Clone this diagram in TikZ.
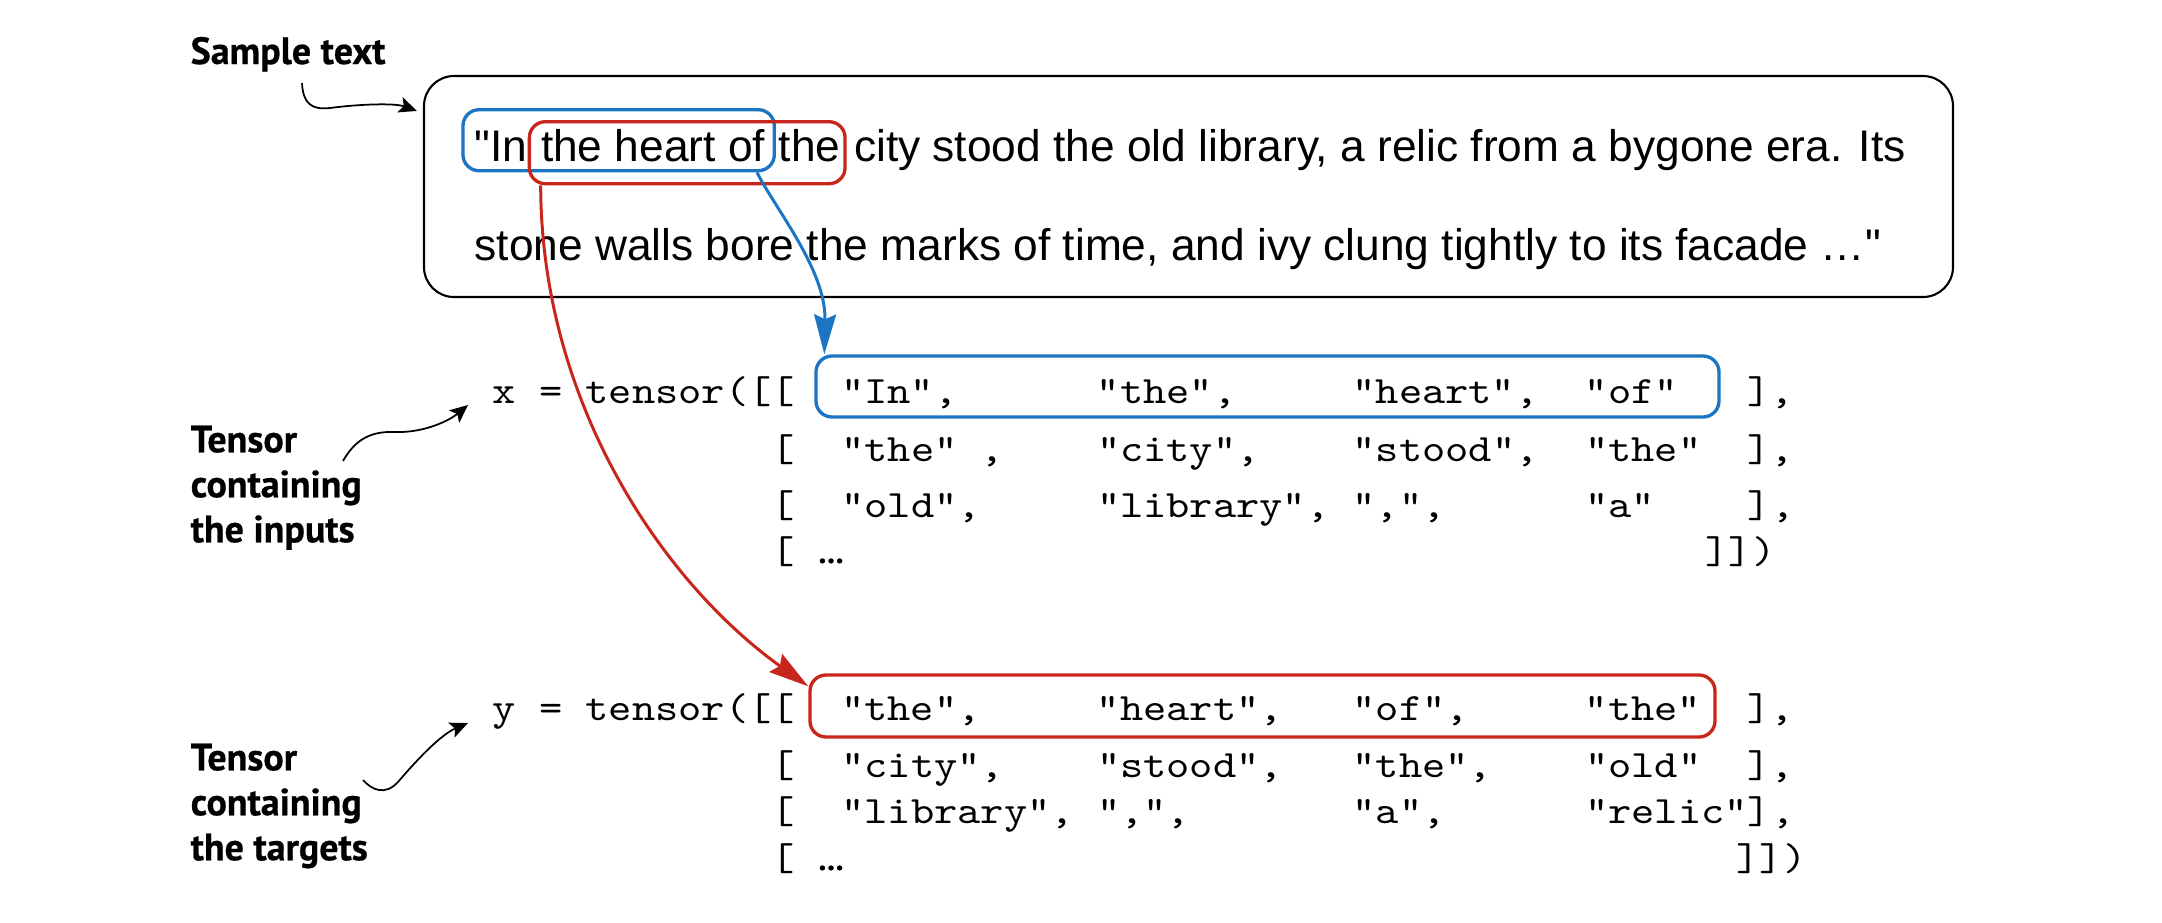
\documentclass[tikz,border=0pt]{standalone}
\usepackage{fontspec}
\newfontfamily\txtfont{Liberation Sans}
\newfontfamily\lblfont[BoldFeatures={FakeBold=0.6}]{PT Sans}
\newfontfamily\codefont[FakeStretch=1.145]{lmmono10-regular.otf}
\usetikzlibrary{arrows.meta,calc,fit}
\definecolor{hlblue}{RGB}{27,117,194}
\definecolor{hlred}{RGB}{200,38,28}
\tikzset{
  txt/.style={font=\txtfont\fontsize{12.6}{15}\selectfont, inner sep=0, anchor=base west},
  code/.style={font=\codefont\fontsize{11}{13}\selectfont, inner sep=0, anchor=base west},
  lbl/.style={font=\lblfont\bfseries\fontsize{10.8}{12.8}\selectfont, inner sep=0, align=left},
  hlbox/.style={draw, line width=0.95pt, rounded corners=1.6mm, inner sep=0},
  bigbox/.style={draw, line width=0.6pt, rounded corners=3mm, minimum width=152.9mm, minimum height=22.1mm, inner sep=0},
  lblarrow/.style={-{Stealth[length=1.8mm,width=1.6mm,inset=0.4mm]}, line width=0.5pt},
  hlarrow/.style={-{Stealth[length=4mm,width=2.2mm,inset=0.5mm]}, line width=0.85pt},
}
\newcommand{\dotsym}{{\lblfont\bfseries\fontsize{9}{11}\selectfont …}}
\begin{document}
\begin{tikzpicture}[x=0.1mm,y=-0.1mm]
\useasboundingbox (0,0) rectangle (2162,922);
% labels
\node[lbl, anchor=base west] (lsample) at (190,64) {Sample text};
\node[lbl, anchor=north west] (linputs) at (190,425) {Tensor\\containing\\the inputs};
\node[lbl, anchor=north west] (ltargets) at (190,743) {Tensor\\containing\\the targets};
% main box and sample text
\node[bigbox] (box) at (1188.5,186.5) {};
\node[txt] (w1) at (474,161.7) {"In};
\node[txt] (w2) at ([xshift=3.5pt]w1.base east) {the heart of};
\node[txt] (w3) at ([xshift=3.5pt]w2.base east) {the};
\node[txt] (w4) at ([xshift=3.5pt]w3.base east) {city stood the old library, a relic from a bygone era. Its};
\node[txt] (l2) at (474,260) {stone walls bore the marks of time, and ivy clung tightly to its facade …"};
% highlight boxes in the sample text
\coordinate (bA1) at ($(w1.base west)+(-11,-52)$);
\coordinate (bA2) at ($(w2.base east)+(8.5,9)$);
\node[hlbox, draw=hlblue, fit=(bA1)(bA2)] (bA) {};
\coordinate (rA1) at ($(w2.base west)+(-11,-40)$);
\coordinate (rA2) at ($(w3.base east)+(4,22)$);
\node[hlbox, draw=hlred, fit=(rA1)(rA2)] (rA) {};
% input tensor
\node[code] (xr1) at (492,403) {x~=~tensor([[~~"In",~~~~~~"the",~~~~~"heart",~~"of"~~~],};
\node[code] (xr2) at (771,461) {[~~"the"~,~~~~"city",~~~~"stood",~~"the"~~],};
\node[code] (xr3) at (771,517) {[~~"old",~~~~~"library",~",",~~~~~~"a"~~~~],};
\node[code] (xr4a) at (771,563) {[~\dotsym};
\node[code] (xr4b) at (1705,563) {]])};
\coordinate (xb1) at ($(xr1.base west)+(324,-47)$);
\coordinate (xb2) at ($(xr1.base west)+(1227,14)$);
\node[hlbox, draw=hlblue, fit=(xb1)(xb2)] (xbox) {};
% target tensor
\node[code] (yr1) at (492,720) {y~=~tensor([[~~"the",~~~~~"heart",~~~"of",~~~~~"the"~~],};
\node[code] (yr2) at (771,777) {[~~"city",~~~~"stood",~~~"the",~~~~"old"~~],};
\node[code] (yr3) at (771,823) {[~~"library",~“,",~~~~~~~“a",~~~~~~“relic"],};
\node[code] (yr4a) at (771,870) {[~\dotsym};
\node[code] (yr4b) at (1736,870) {]])};
\coordinate (yb1) at ($(yr1.base west)+(318,-45)$);
\coordinate (yb2) at ($(yr1.base west)+(1223,17)$);
\node[hlbox, draw=hlred, fit=(yb1)(yb2)] (ybox) {};
% highlight arrows
\draw[hlarrow, hlblue] ($(bA.south east)+(-19,0)$) .. controls (776,210) and (826,270) .. ($(xbox.north west)+(10,0)$);
\draw[hlarrow, hlred] ($(rA.south west)+(13,0)$) .. controls (541,400) and (660,580) .. ($(ybox.north west)+(0,13)$);
% label arrows
\coordinate (sa) at (302,83);
\draw[lblarrow] (sa) .. controls (303,104) and (312,110) .. (330,108) .. controls (360,104) and (395,103) .. ($(box.north west)+(-6,36)$);
\coordinate (ia) at (343,461);
\draw[lblarrow] (ia) .. controls (355,440) and (370,431) .. (395,432) .. controls (425,433) and (450,420) .. ($(xr1.base west)+(-24,2)$);
\coordinate (ta) at (363,780);
\draw[lblarrow] (ta) .. controls (372,790) and (385,796) .. (398,782) .. controls (415,762) and (440,735) .. ($(yr1.base west)+(-24,3)$);
\end{tikzpicture}
\end{document}
